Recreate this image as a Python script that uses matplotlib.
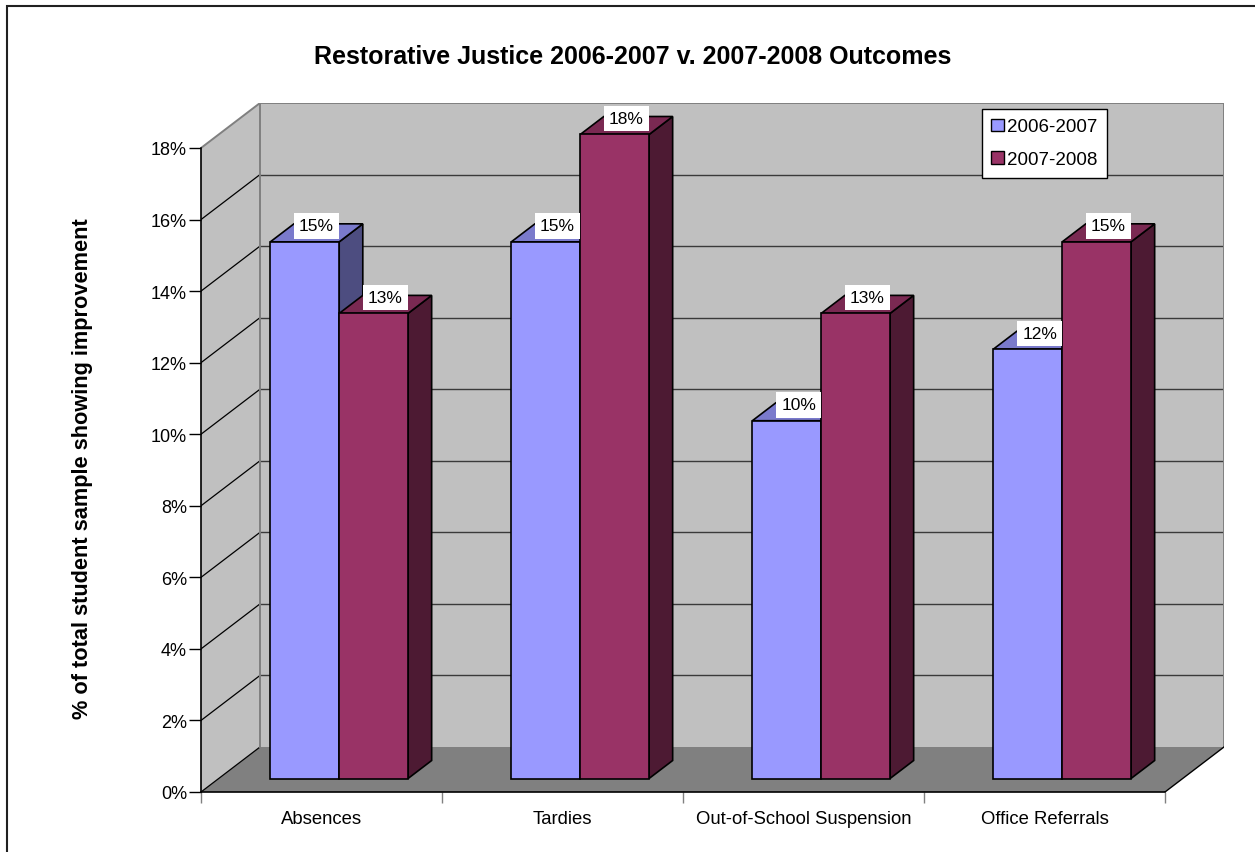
import matplotlib.pyplot as plt
from matplotlib.patches import Patch, Rectangle
from matplotlib.colors import to_rgb

plt.rcParams['font.family'] = ['Liberation Sans', 'DejaVu Sans']

categories = ['Absences', 'Tardies', 'Out-of-School Suspension', 'Office Referrals']
series_names = ['2006-2007', '2007-2008']
values_0607 = [15, 15, 10, 12]
values_0708 = [13, 18, 13, 15]
y_ticks = [0, 2, 4, 6, 8, 10, 12, 14, 16, 18]

colors = ['#9999FF', '#993366']

W, H = 1255, 853
fig = plt.figure(figsize=(W / 100, H / 100), dpi=100)

# oblique depth offset (category units, percent units)
DX = 59 / 241
DY = 45 / 35.78
Z0, Z1 = 0.3, 0.7          # bars sit in the middle of the depth
BAR_W = 1 / 3.5
YMAX = 18

ax = fig.add_axes([201 / W, (H - 793) / H, (964 + 59) / W, (644 + 45) / H])
ax.set_xlim(0, len(categories) + DX)
ax.set_ylim(0, YMAX + DY)
ax.patch.set_visible(False)

n = len(categories)
wall = '#C0C0C0'
edge_gray = '#808080'

# back wall, left wall, floor
ax.fill([DX, n + DX, n + DX, DX], [DY, DY, YMAX + DY, YMAX + DY],
        facecolor=wall, edgecolor='none', zorder=1)
ax.fill([0, DX, DX, 0], [0, DY, YMAX + DY, YMAX], facecolor=wall,
        edgecolor='none', zorder=1)
ax.fill([0, n, n + DX, DX], [0, 0, DY, DY], facecolor='#808080',
        edgecolor='none', zorder=1)

# gridlines on both walls
for v in y_ticks[1:-1]:
    ax.plot([DX, n + DX], [v + DY, v + DY], color='#3a3a3a', lw=1.0, zorder=2)
for v in y_ticks[:-1]:
    ax.plot([0, DX], [v, v + DY], color='black', lw=0.9, zorder=2)

# wall outlines
ax.plot([0, DX, n + DX, n + DX], [YMAX, YMAX + DY, YMAX + DY, DY],
        color=edge_gray, lw=1.4, zorder=2, solid_joinstyle='miter')
ax.plot([DX, DX], [DY, YMAX + DY], color=edge_gray, lw=1.4, zorder=2)
ax.plot([n, n + DX], [0, DY], color='black', lw=1.0, zorder=2)


def shade(c, f):
    r, g, b = to_rgb(c)
    return (r * f, g * f, b * f)


def draw_bar(x0, h, color, z):
    fx = x0 + Z0 * DX
    fy = Z0 * DY
    ddx = (Z1 - Z0) * DX
    ddy = (Z1 - Z0) * DY
    kw = dict(edgecolor='black', lw=1.2, joinstyle='miter')
    ax.fill([fx + BAR_W, fx + BAR_W + ddx, fx + BAR_W + ddx, fx + BAR_W],
            [fy, fy + ddy, fy + h + ddy, fy + h],
            facecolor=shade(color, 0.5), zorder=z, **kw)
    ax.fill([fx, fx + BAR_W, fx + BAR_W + ddx, fx + ddx],
            [fy + h, fy + h, fy + h + ddy, fy + h + ddy],
            facecolor=shade(color, 0.8), zorder=z, **kw)
    ax.add_patch(Rectangle((fx, fy), BAR_W, h, facecolor=color, zorder=z, **kw))
    ax.text(fx + BAR_W / 2 + ddx / 2, fy + h + ddy - 0.06, f'{h:g}%',
            ha='center', va='center', fontsize=12.5, zorder=20,
            bbox=dict(boxstyle='square,pad=0.3', facecolor='white',
                      edgecolor='none'))


z = 5
for i in range(n):
    c = i + 0.5
    for j, vals in enumerate([values_0607, values_0708]):
        draw_bar(c - BAR_W + j * BAR_W, vals[i], colors[j], z)
        z += 1

# axes: front spines and ticks
for s in ['top', 'right']:
    ax.spines[s].set_visible(False)
ax.spines['left'].set_bounds(0, YMAX)
ax.spines['bottom'].set_bounds(0, n)
for s in ['left', 'bottom']:
    ax.spines[s].set_color('black')
    ax.spines[s].set_linewidth(1.2)
    ax.spines[s].set_zorder(3)

ax.set_yticks(y_ticks)
ax.set_yticklabels([f'{v}%' for v in y_ticks], fontsize=13)
ax.tick_params(axis='y', length=9, width=1.0, pad=1, color='black')

ax.set_xticks(range(n + 1))
ax.set_xticklabels([])
ax.set_xticks([i + 0.5 for i in range(n)], minor=True)
ax.set_xticklabels(categories, minor=True, fontsize=13.3)
ax.tick_params(axis='x', which='major', length=8, width=1.0, color=edge_gray)
ax.tick_params(axis='x', which='minor', length=0, pad=13)

fig.text(633 / W, 1 - 57 / H, 'Restorative Justice 2006-2007 v. 2007-2008 Outcomes',
         ha='center', va='center', fontsize=18, fontweight='bold')
fig.text(83 / W, 1 - 469 / H, '% of total student sample showing improvement',
         ha='center', va='center', rotation=90, fontsize=15.7, fontweight='bold')

handles = [Patch(facecolor=c, edgecolor='black', lw=1.0) for c in colors]
leg = fig.legend(handles, series_names, loc='upper left',
                 bbox_to_anchor=(982 / W, 1 - 110 / H), fontsize=13.5,
                 frameon=True, fancybox=False, framealpha=1, edgecolor='black',
                 handlelength=0.65, handleheight=0.65, handletextpad=0.2,
                 labelspacing=0.85, borderpad=0.5, borderaxespad=0)
leg.get_frame().set_linewidth(1.0)

# outer chart border
fig.add_artist(Rectangle((7 / W, -0.05), 1.1, 1.05 - 7 / H, transform=fig.transFigure,
                         fill=False, edgecolor='#202020', lw=1.5))

fig.savefig('out.png', dpi=100, facecolor='white')
